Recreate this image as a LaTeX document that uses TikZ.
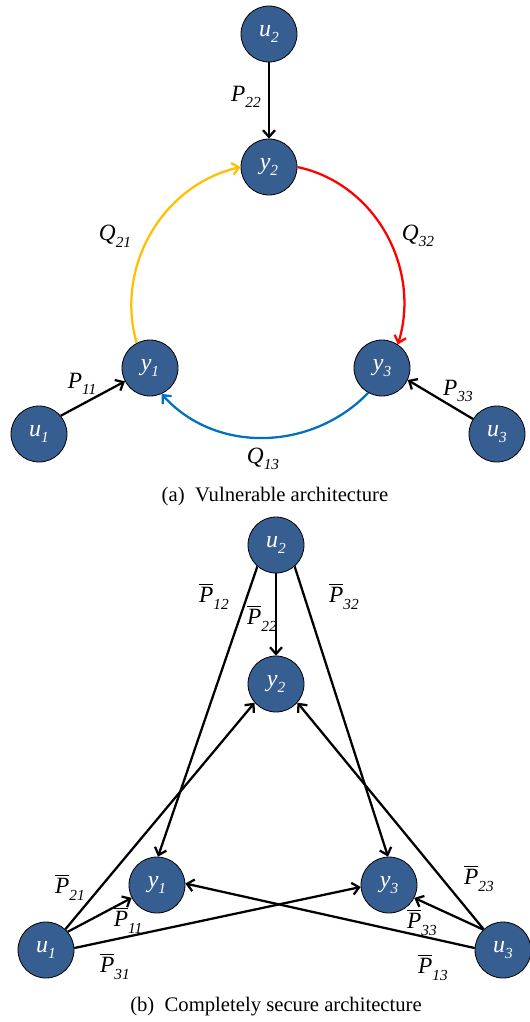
\documentclass[tikz,border=0pt]{standalone}
\usepackage{amsmath}
\usepackage{fontspec}
\setmainfont{Liberation Serif}
\usepackage{tikz}
\usepackage{xcolor}
\usetikzlibrary{arrows.meta,positioning}
\definecolor{nodeblue}{RGB}{55,94,145}
\definecolor{qyellow}{RGB}{255,192,0}
\definecolor{qred}{RGB}{255,0,0}
\definecolor{qblue}{RGB}{0,112,192}
\newcommand{\vsub}[2]{\textit{#1}\raisebox{-5pt}{\fontsize{11.5}{11.5}\selectfont\textit{#2}}}
\newcommand{\vbar}[2]{$\overline{\mbox{\textit{#1}}}$\raisebox{-5pt}{\fontsize{11.5}{11.5}\selectfont\textit{#2}}}

\begin{document}
\begin{tikzpicture}[x=0.75pt,y=-0.75pt,>={Straight Barb[length=5pt,width=9pt]}]
	\tikzstyle{nd}=[circle,draw=black,line width=0.6pt,fill=nodeblue,minimum size=42pt,inner sep=0pt,text=white,font=\fontsize{18}{18}\selectfont]
	\tikzstyle{lbl}=[inner sep=0pt,font=\fontsize{17.5}{17.5}\selectfont]
	\tikzstyle{link}=[->,line width=1.7pt]
	\tikzstyle{captxt}=[font=\fontsize{15.5}{15.5}\selectfont]
	\useasboundingbox (0,0) rectangle (530,1022);
	% (a) vulnerable
	\node[nd] (u2) at (269,34) {\vsub{u}{2}};
	\node[nd] (y2) at (269,167) {\vsub{y}{2}};
	\node[nd] (y1) at (150,368) {\vsub{y}{1}};
	\node[nd] (y3) at (382,368) {\vsub{y}{3}};
	\node[nd] (u1) at (39,434) {\vsub{u}{1}};
	\node[nd] (u3) at (497,434) {\vsub{u}{3}};
	\draw[link] (u2) -- (y2);
	\draw[link] (u1.40) -- (y1.208);
	\draw[link] (u3.148) -- (y3.335);
	\draw[link,qyellow] (y1.118) to[out=106,in=193] (y2.west);
	\draw[link,qred] (y2.east) to[out=348,in=73] (y3.56);
	\draw[link,qblue] (y3.241) to[out=226,in=312] (y1.294);
	\node[lbl] (p22) at (246,97) {\vsub{P}{22}};
	\node[lbl] (p11) at (82,384) {\vsub{P}{11}};
	\node[lbl] (p33) at (458,391) {\vsub{P}{33}};
	\node[lbl] (q21) at (115,236) {\vsub{Q}{21}};
	\node[lbl] (q32) at (418,236) {\vsub{Q}{32}};
	\node[lbl] (q13) at (263,459) {\vsub{Q}{13}};
	\node[captxt] (capa) at (275,497) {(a)\hspace{0.5em}Vulnerable architecture};
	% (b) completely secure
	\node[nd] (bu2) at (276,545) {\vsub{u}{2}};
	\node[nd] (by2) at (276,684) {\vsub{y}{2}};
	\node[nd] (by1) at (157,885) {\vsub{y}{1}};
	\node[nd] (by3) at (389,885) {\vsub{y}{3}};
	\node[nd] (bu1) at (46,950) {\vsub{u}{1}};
	\node[nd] (bu3) at (503,950) {\vsub{u}{3}};
	\draw[link] (bu2) -- (by2);
	\draw[link] (bu2.229) -- (by1.88);
	\draw[link] (bu2.311) -- (by3.92);
	\draw[link] (bu1.47) -- (by2.221);
	\draw[link] (bu1.40) -- (by1.207);
	\draw[link] (bu1.4) -- (by3.184);
	\draw[link] (bu3.133) -- (by2.319);
	\draw[link] (bu3.134) -- (by3.333);
	\draw[link] (bu3.176) -- (by1.3);
	\node[lbl] (pb12) at (214,596) {\vbar{P}{12}};
	\node[lbl] (pb22) at (262,618) {\vbar{P}{22}};
	\node[lbl] (pb32) at (344,596) {\vbar{P}{32}};
	\node[lbl] (pb21) at (70,887) {\vbar{P}{21}};
	\node[lbl] (pb11) at (128,920) {\vbar{P}{11}};
	\node[lbl] (pb31) at (115,966) {\vbar{P}{31}};
	\node[lbl] (pb23) at (479,878) {\vbar{P}{23}};
	\node[lbl] (pb33) at (422,922) {\vbar{P}{33}};
	\node[lbl] (pb13) at (433,967) {\vbar{P}{13}};
	\node[captxt] (capb) at (276,1007) {(b)\hspace{0.5em}Completely secure architecture};
\end{tikzpicture}
\end{document}
